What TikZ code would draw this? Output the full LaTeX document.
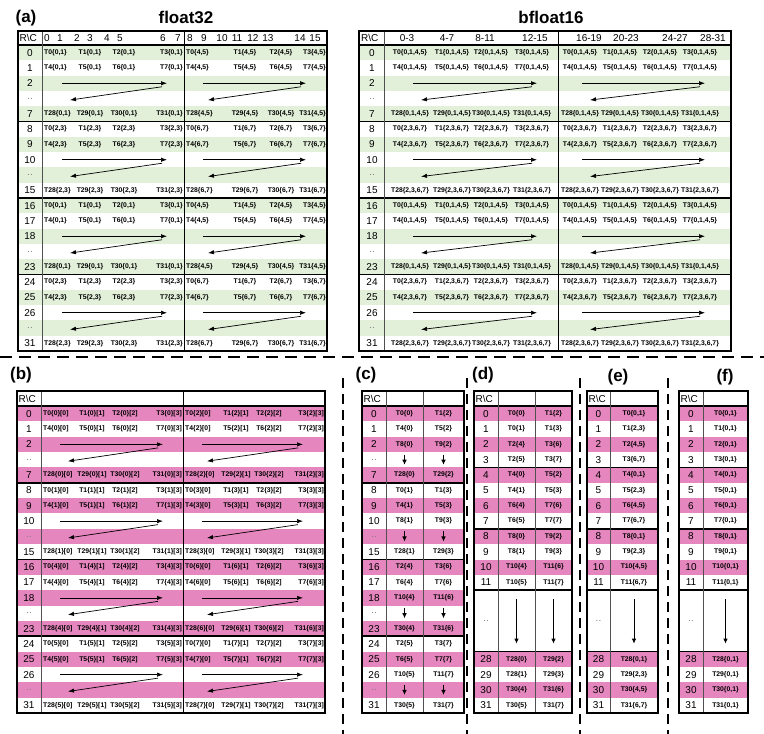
\documentclass[tikz,border=0pt]{standalone}
\usepackage{fontspec}
\setmainfont{Liberation Sans}
\usetikzlibrary{arrows.meta}
\definecolor{bandgreen}{RGB}{226,239,217}
\definecolor{bandpink}{RGB}{230,134,190}
\definecolor{rcgray}{RGB}{80,80,80}
\newcommand{\dotdot}{\textcolor{gray}{..}}
\newcommand{\rcl}{R\textbackslash C}
\tikzset{
  thr/.style={font=\fontsize{6.8}{7}\selectfont\bfseries, inner sep=0pt},
  rowlab/.style={font=\fontsize{10}{11}\selectfont, inner sep=0pt},
  paneltitle/.style={font=\fontsize{17}{19}\selectfont\bfseries, inner sep=0pt},
  tblborder/.style={draw=black, line width=1.3pt},
  blocksep/.style={draw=black, line width=1.7pt},
  rcline/.style={draw=rcgray, line width=0.7pt},
  halfline/.style={draw=black, line width=0.8pt},
  tharrow/.style={draw=black, line width=0.7pt, -{Latex[length=6pt,width=4.4pt]}},
  downarrow/.style={draw=black, line width=0.8pt, -{Latex[length=5pt,width=4.6pt]}},
  hdash/.style={draw=black, line width=2pt, dash pattern=on 12pt off 7pt},
  vdash/.style={draw=black, line width=2pt, dash pattern=on 10pt off 6pt},
}
\begin{document}
\begin{tikzpicture}[x=1pt,y=-1pt]
\useasboundingbox (0,0) rectangle (764,734);

% ---------------- titles
\node[paneltitle] (ta) at (26,18) {(a)};
\node[paneltitle] (tf32) at (186,17) {float32};
\node[paneltitle] (tbf) at (551,17) {bfloat16};
\node[paneltitle] (tb) at (21,375) {(b)};
\node[paneltitle] (tc) at (366,375) {(c)};
\node[paneltitle] (td) at (483,375) {(d)};
\node[paneltitle] (te) at (618,377) {(e)};
\node[paneltitle] (tf) at (725,377) {(f)};

% ---------------- separators
\coordinate (hdl) at (0,357);
\coordinate (hdr) at (764,357);
\draw[hdash] (hdl) -- (hdr);
\foreach \xx [count=\ii] in {343,467,580,668}{
  \coordinate (vdt\ii) at (\xx,378);
  \coordinate (vdb\ii) at (\xx,734);
  \draw[vdash] (vdt\ii) -- (vdb\ii);
}

% ================= float32 table
\foreach \kk in {0,2,...,18}
  \fill[bandgreen] (18,{45+\kk*15.3}) rectangle (327,{45+(\kk+1)*15.3});
\draw[blocksep] (18,45) -- (327,45);
\foreach \bk in {1,2,3} \draw[blocksep] (18,{45+\bk*76.5}) -- (327,{45+\bk*76.5});
\draw[rcline] (42,31) -- (42,351);
\draw[halfline] (184,31) -- (184,351);
\draw[tblborder] (18,31) rectangle (327,351);
\node[rowlab, anchor=west] (f32rc) at (19.5,38) {\rcl};
\foreach \cc/\xx in {0/47,1/60,2/77,3/90,4/107,5/120,6/163,7/178,8/190,9/204,10/222,11/237,12/253,13/268,14/300,15/315}
  \node[rowlab] (f32h\cc) at (\xx,38) {\cc};
\foreach \lab [count=\kk from 0] in {0,1,2,\dotdot,7,8,9,10,\dotdot,15,16,17,18,\dotdot,23,24,25,26,\dotdot,31}
  \node[rowlab] (f32r\kk) at (30,{45+(\kk+0.5)*15.3}) {\lab};
\foreach \bk/\gl/\gr in {0/{0,1}/{4,5},1/{2,3}/{6,7},2/{0,1}/{4,5},3/{2,3}/{6,7}}{
  \foreach \rw/\tb in {0/0,1/4,4/28}{
    \foreach \jj/\an/\xl/\xr in {0/west/44/186,1/center/90/245,2/center/124/281,3/east/183/326}{
      \pgfmathtruncatemacro{\tn}{\tb+\jj}
      \pgfmathsetmacro{\yy}{45+(5*\bk+\rw+0.5)*15.3}
      \node[thr, anchor=\an] (f32L-\bk-\rw-\jj) at (\xl,\yy) {T\tn\{\gl\}};
      \node[thr, anchor=\an] (f32R-\bk-\rw-\jj) at (\xr,\yy) {T\tn\{\gr\}};
    }
  }
}
\foreach \bk in {0,1,2,3}{
  \pgfmathsetmacro{\ya}{45+(5*\bk+2.5)*15.3}
  \pgfmathsetmacro{\yb}{45+(5*\bk+3.5)*15.3}
  \coordinate (f32L-\bk-fs) at (62,\ya);
  \coordinate (f32L-\bk-fe) at (167,\ya);
  \coordinate (f32L-\bk-bs) at (162,{\ya+3.5});
  \coordinate (f32L-\bk-be) at (70,{\yb+1.5});
  \coordinate (f32R-\bk-fs) at (203,\ya);
  \coordinate (f32R-\bk-fe) at (306,\ya);
  \coordinate (f32R-\bk-bs) at (301,{\ya+3.5});
  \coordinate (f32R-\bk-be) at (208,{\yb+1.5});
  \draw[tharrow] (f32L-\bk-fs) -- (f32L-\bk-fe);
  \draw[tharrow] (f32L-\bk-bs) -- (f32L-\bk-be);
  \draw[tharrow] (f32R-\bk-fs) -- (f32R-\bk-fe);
  \draw[tharrow] (f32R-\bk-bs) -- (f32R-\bk-be);
}

% ================= bfloat16 table
\foreach \kk in {0,2,...,18}
  \fill[bandgreen] (359,{45+\kk*15.3}) rectangle (731,{45+(\kk+1)*15.3});
\draw[blocksep] (359,45) -- (731,45);
\foreach \bk in {1,2,3} \draw[blocksep] (359,{45+\bk*76.5}) -- (731,{45+\bk*76.5});
\draw[rcline] (384,31) -- (384,351);
\draw[halfline] (558,31) -- (558,351);
\draw[tblborder] (359,31) rectangle (731,351);
\node[rowlab, anchor=west] (bfrc) at (361,38) {\rcl};
\foreach \cc/\xx [count=\ii] in {0-3/407,4-7/447,8-11/485,12-15/535,16-19/589,20-23/626,24-27/675,28-31/713}
  \node[rowlab] (bfh\ii) at (\xx,38) {\cc};
\foreach \lab [count=\kk from 0] in {0,1,2,\dotdot,7,8,9,10,\dotdot,15,16,17,18,\dotdot,23,24,25,26,\dotdot,31}
  \node[rowlab] (bfr\kk) at (372,{45+(\kk+0.5)*15.3}) {\lab};
\foreach \bk/\gg in {0/{0,1,4,5},1/{2,3,6,7},2/{0,1,4,5},3/{2,3,6,7}}{
  \foreach \rw/\tb in {0/0,1/4,4/28}{
    \foreach \jj/\xl/\xr in {0/410/580,1/452/620,2/491/660,3/532/700}{
      \pgfmathtruncatemacro{\tn}{\tb+\jj}
      \pgfmathsetmacro{\yy}{45+(5*\bk+\rw+0.5)*15.3}
      \node[thr] (bfL-\bk-\rw-\jj) at (\xl,\yy) {T\tn\{\gg\}};
      \node[thr] (bfR-\bk-\rw-\jj) at (\xr,\yy) {T\tn\{\gg\}};
    }
  }
}
\foreach \bk in {0,1,2,3}{
  \pgfmathsetmacro{\ya}{45+(5*\bk+2.5)*15.3}
  \pgfmathsetmacro{\yb}{45+(5*\bk+3.5)*15.3}
  \coordinate (bfL-\bk-fs) at (413,\ya);
  \coordinate (bfL-\bk-fe) at (537,\ya);
  \coordinate (bfL-\bk-bs) at (532,{\ya+3.5});
  \coordinate (bfL-\bk-be) at (421,{\yb+1.5});
  \coordinate (bfR-\bk-fs) at (582,\ya);
  \coordinate (bfR-\bk-fe) at (705,\ya);
  \coordinate (bfR-\bk-bs) at (700,{\ya+3.5});
  \coordinate (bfR-\bk-be) at (590,{\yb+1.5});
  \draw[tharrow] (bfL-\bk-fs) -- (bfL-\bk-fe);
  \draw[tharrow] (bfL-\bk-bs) -- (bfL-\bk-be);
  \draw[tharrow] (bfR-\bk-fs) -- (bfR-\bk-fe);
  \draw[tharrow] (bfR-\bk-bs) -- (bfR-\bk-be);
}

% ================= (b) table
\foreach \kk in {0,2,...,18}
  \fill[bandpink] (17,{406+\kk*15.35}) rectangle (325,{406+(\kk+1)*15.35});
\draw[blocksep] (17,406) -- (325,406);
\foreach \bk in {1,2,3} \draw[blocksep] (17,{406+\bk*76.75}) -- (325,{406+\bk*76.75});
\draw[rcline] (41,391) -- (41,713);
\draw[halfline] (183,391) -- (183,713);
\draw[tblborder] (17,391) rectangle (325,713);
\node[rowlab, anchor=west] (brc) at (18.5,398.5) {\rcl};
\foreach \lab [count=\kk from 0] in {0,1,2,\dotdot,7,8,9,10,\dotdot,15,16,17,18,\dotdot,23,24,25,26,\dotdot,31}
  \node[rowlab] (br\kk) at (29,{406+(\kk+0.5)*15.35}) {\lab};
\foreach \bk/\gl/\gr in {0/0/2,1/1/3,2/4/6,3/5/7}{
  \foreach \rw/\tb in {0/0,1/4,4/28}{
    \foreach \jj/\an/\xl/\xr in {0/west/43/185,1/center/92/236,2/center/125/269,3/east/182/324}{
      \pgfmathtruncatemacro{\tn}{\tb+\jj}
      \pgfmathsetmacro{\yy}{406+(5*\bk+\rw+0.5)*15.35}
      \node[thr, anchor=\an] (bL-\bk-\rw-\jj) at (\xl,\yy) {T\tn\{\gl\}[\jj]};
      \node[thr, anchor=\an] (bR-\bk-\rw-\jj) at (\xr,\yy) {T\tn\{\gr\}[\jj]};
    }
  }
}
\foreach \bk in {0,1,2,3}{
  \pgfmathsetmacro{\ya}{406+(5*\bk+2.5)*15.35}
  \pgfmathsetmacro{\yb}{406+(5*\bk+3.5)*15.35}
  \coordinate (bL-\bk-fs) at (60,\ya);
  \coordinate (bL-\bk-fe) at (163,\ya);
  \coordinate (bL-\bk-bs) at (158,{\ya+3.5});
  \coordinate (bL-\bk-be) at (68,{\yb+1.5});
  \coordinate (bR-\bk-fs) at (202,\ya);
  \coordinate (bR-\bk-fe) at (303,\ya);
  \coordinate (bR-\bk-bs) at (298,{\ya+3.5});
  \coordinate (bR-\bk-be) at (207,{\yb+1.5});
  \draw[tharrow] (bL-\bk-fs) -- (bL-\bk-fe);
  \draw[tharrow] (bL-\bk-bs) -- (bL-\bk-be);
  \draw[tharrow] (bR-\bk-fs) -- (bR-\bk-fe);
  \draw[tharrow] (bR-\bk-bs) -- (bR-\bk-be);
}

% ================= (c) table
\foreach \kk in {0,2,...,18}
  \fill[bandpink] (362,{406+\kk*15.35}) rectangle (464,{406+(\kk+1)*15.35});
\draw[blocksep] (362,406) -- (464,406);
\foreach \bk in {1,2,3} \draw[blocksep] (362,{406+\bk*76.75}) -- (464,{406+\bk*76.75});
\draw[rcline] (386,391) -- (386,713);
\draw[rcline] (423,391) -- (423,713);
\draw[tblborder] (362,391) rectangle (464,713);
\node[rowlab, anchor=west] (crc) at (363.5,398.5) {\rcl};
\foreach \lab [count=\kk from 0] in {0,1,2,\dotdot,7,8,9,10,\dotdot,15,16,17,18,\dotdot,23,24,25,26,\dotdot,31}
  \node[rowlab] (cr\kk) at (374,{406+(\kk+0.5)*15.35}) {\lab};
\foreach \kk/\ta/\ga/\tbb/\gb in {0/0/0/1/2,1/4/0/5/2,2/8/0/9/2,4/28/0/29/2,5/0/1/1/3,6/4/1/5/3,7/8/1/9/3,9/28/1/29/3,10/2/4/3/6,11/6/4/7/6,12/10/4/11/6,14/30/4/31/6,15/2/5/3/7,16/6/5/7/7,17/10/5/11/7,19/30/5/31/7}{
  \node[thr] (cA\kk) at (404.5,{406+(\kk+0.5)*15.35}) {T\ta\{\ga\}};
  \node[thr] (cB\kk) at (443.5,{406+(\kk+0.5)*15.35}) {T\tbb\{\gb\}};
}
\foreach \kk in {3,8,13,18}{
  \coordinate (cAs\kk) at (404.5,{406+(\kk+0.5)*15.35-5});
  \coordinate (cAe\kk) at (404.5,{406+(\kk+0.5)*15.35+5});
  \coordinate (cBs\kk) at (443.5,{406+(\kk+0.5)*15.35-5});
  \coordinate (cBe\kk) at (443.5,{406+(\kk+0.5)*15.35+5});
  \draw[downarrow] (cAs\kk) -- (cAe\kk);
  \draw[downarrow] (cBs\kk) -- (cBe\kk);
}

% ================= (d) table
\foreach \kk in {0,2,4,6,8,10,16,18}
  \fill[bandpink] (474,{406+\kk*15.35}) rectangle (572,{406+(\kk+1)*15.35});
\foreach \kk in {0,4,8,12,16} \draw[blocksep] (474,{406+\kk*15.35}) -- (572,{406+\kk*15.35});
\draw[rcline] (498,391) -- (498,713);
\draw[rcline] (535,391) -- (535,713);
\draw[tblborder] (474,391) rectangle (572,713);
\node[rowlab, anchor=west] (drc) at (475.5,398.5) {\rcl};
\foreach \lab [count=\kk from 0] in {0,1,...,11}
  \node[rowlab] (dr\kk) at (486,{406+(\kk+0.5)*15.35}) {\lab};
\node[rowlab] (drdd) at (486,{406+14*15.35}) {\dotdot};
\foreach \lab [count=\kk from 16] in {28,29,30,31}
  \node[rowlab] (dr\kk) at (486,{406+(\kk+0.5)*15.35}) {\lab};
\foreach \kk/\ta/\ga/\tbb/\gb in {0/0/0/1/2,1/0/1/1/3,2/2/4/3/6,3/2/5/3/7,4/4/0/5/2,5/4/1/5/3,6/6/4/7/6,7/6/5/7/7,8/8/0/9/2,9/8/1/9/3,10/10/4/11/6,11/10/5/11/7,16/28/0/29/2,17/28/1/29/3,18/30/4/31/6,19/30/5/31/7}{
  \node[thr] (dA\kk) at (516.5,{406+(\kk+0.5)*15.35}) {T\ta\{\ga\}};
  \node[thr] (dB\kk) at (553.5,{406+(\kk+0.5)*15.35}) {T\tbb\{\gb\}};
}
\coordinate (dAs) at (516.5,{406+12*15.35+9});
\coordinate (dAe) at (516.5,{406+16*15.35-8});
\coordinate (dBs) at (553.5,{406+12*15.35+9});
\coordinate (dBe) at (553.5,{406+16*15.35-8});
\draw[downarrow] (dAs) -- (dAe);
\draw[downarrow] (dBs) -- (dBe);

% ================= (e) table
\foreach \kk in {0,2,4,6,8,10,16,18}
  \fill[bandpink] (587,{406+\kk*15.35}) rectangle (658,{406+(\kk+1)*15.35});
\foreach \kk in {0,4,8,12,16} \draw[blocksep] (587,{406+\kk*15.35}) -- (658,{406+\kk*15.35});
\draw[rcline] (610,391) -- (610,713);
\draw[tblborder] (587,391) rectangle (658,713);
\node[rowlab, anchor=west] (erc) at (588.5,398.5) {\rcl};
\foreach \lab [count=\kk from 0] in {0,1,...,11}
  \node[rowlab] (er\kk) at (598.5,{406+(\kk+0.5)*15.35}) {\lab};
\node[rowlab] (erdd) at (598.5,{406+14*15.35}) {\dotdot};
\foreach \lab [count=\kk from 16] in {28,29,30,31}
  \node[rowlab] (er\kk) at (598.5,{406+(\kk+0.5)*15.35}) {\lab};
\foreach \kk/\ta/\ga in {0/0/{0,1},1/1/{2,3},2/2/{4,5},3/3/{6,7},4/4/{0,1},5/5/{2,3},6/6/{4,5},7/7/{6,7},8/8/{0,1},9/9/{2,3},10/10/{4,5},11/11/{6,7},16/28/{0,1},17/29/{2,3},18/30/{4,5},19/31/{6,7}}{
  \node[thr] (eA\kk) at (634,{406+(\kk+0.5)*15.35}) {T\ta\{\ga\}};
}
\coordinate (eAs) at (634,{406+12*15.35+9});
\coordinate (eAe) at (634,{406+16*15.35-8});
\draw[downarrow] (eAs) -- (eAe);

% ================= (f) table
\foreach \kk in {0,2,4,6,8,10,16,18}
  \fill[bandpink] (679,{406+\kk*15.35}) rectangle (748,{406+(\kk+1)*15.35});
\foreach \kk in {0,4,8,12,16} \draw[blocksep] (679,{406+\kk*15.35}) -- (748,{406+\kk*15.35});
\draw[rcline] (703,391) -- (703,713);
\draw[tblborder] (679,391) rectangle (748,713);
\node[rowlab, anchor=west] (frc) at (680.5,398.5) {\rcl};
\foreach \lab [count=\kk from 0] in {0,1,...,11}
  \node[rowlab] (fr\kk) at (691,{406+(\kk+0.5)*15.35}) {\lab};
\node[rowlab] (frdd) at (691,{406+14*15.35}) {\dotdot};
\foreach \lab [count=\kk from 16] in {28,29,30,31}
  \node[rowlab] (fr\kk) at (691,{406+(\kk+0.5)*15.35}) {\lab};
\foreach \kk/\ta in {0/0,1/1,2/2,3/3,4/4,5/5,6/6,7/7,8/8,9/9,10/10,11/11,16/28,17/29,18/30,19/31}{
  \node[thr] (fA\kk) at (725.5,{406+(\kk+0.5)*15.35}) {T\ta\{0,1\}};
}
\coordinate (fAs) at (725.5,{406+12*15.35+9});
\coordinate (fAe) at (725.5,{406+16*15.35-8});
\draw[downarrow] (fAs) -- (fAe);

\end{tikzpicture}
\end{document}
